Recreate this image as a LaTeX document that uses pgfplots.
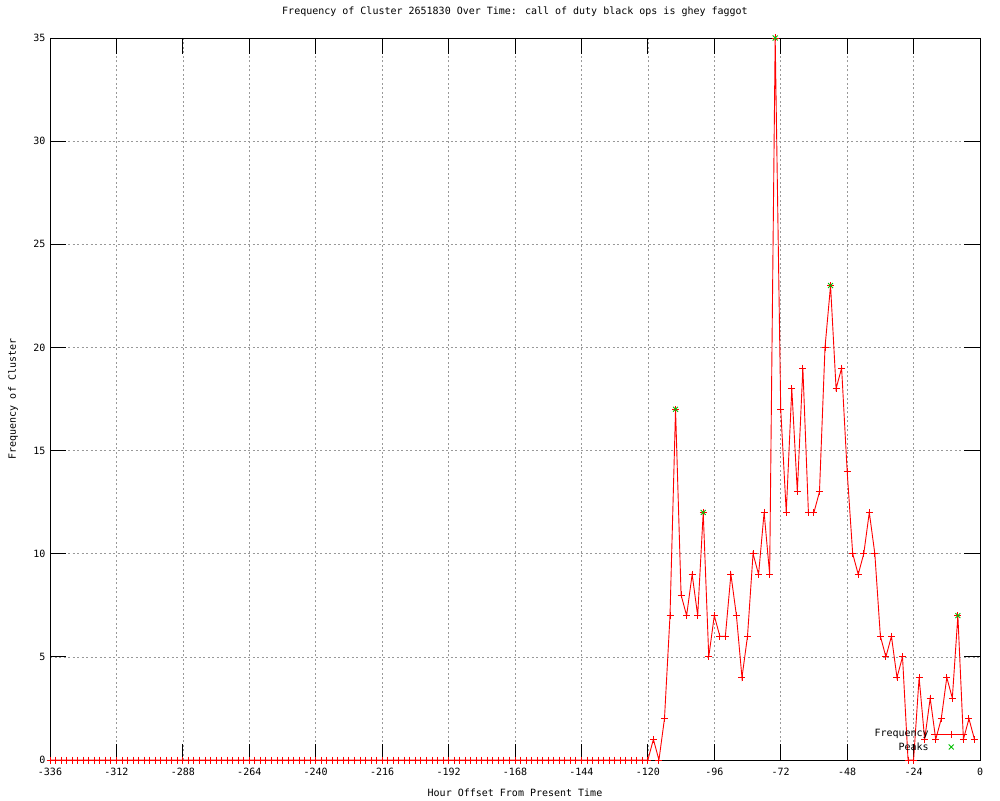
\documentclass[border=0pt]{standalone}
\usepackage{pgfplots}
\pgfplotsset{compat=1.18}
\usepackage{fontspec}
\setmainfont{DejaVu Sans Mono}
\definecolor{gpgreen}{RGB}{0,192,0}
\begin{document}
\fontsize{10pt}{12pt}\selectfont
\begin{tikzpicture}[x=1pt,y=1pt]
\useasboundingbox[fill=white] (0,0) rectangle (1000,800);
\begin{axis}[
  at={(50pt,40pt)}, anchor=south west,
  scale only axis, width=930pt, height=722pt,
  xmin=-336, xmax=0, ymin=0, ymax=35,
  xtick={-336,-312,-288,-264,-240,-216,-192,-168,-144,-120,-96,-72,-48,-24,0},
  xticklabels={-336,-312,-288,-264,-240,-216,-192,-168,-144,-120,-96,-72,-48,-24,0},
  ytick={0,5,10,15,20,25,30,35},
  yticklabels={0,5,10,15,20,25,30,35},
  tick align=inside,
  major tick length=16pt,
  tick style={black, line width=0.8pt},
  axis line style={black, line width=0.8pt},
  grid=major,
  major grid style={gray!80, line width=0.6pt, dash pattern=on 2pt off 2.5pt},
  ticklabel style={font=\fontsize{10pt}{12pt}\selectfont},
  xticklabel style={yshift=-5pt},
  yticklabel style={xshift=-1pt},
  title={Frequency of Cluster 2651830 Over Time: call of duty black ops is ghey faggot},
  title style={at={(axis description cs:0.5,1.0277)}, anchor=center, font=\fontsize{10pt}{12pt}\selectfont},
  xlabel={Hour Offset From Present Time},
  xlabel style={at={(axis description cs:0.5,-0.0457)}, anchor=center, font=\fontsize{10pt}{12pt}\selectfont},
  ylabel={Frequency of Cluster},
  ylabel style={at={(axis description cs:-0.0398,0.5)}, anchor=center, rotate=0, font=\fontsize{10pt}{12pt}\selectfont},
  legend plot pos=right,
  legend cell align=right,
  legend style={draw=none, fill=none, at={(rel axis cs:0.988,0.0465)}, anchor=north east,
    font=\fontsize{10pt}{12pt}\selectfont, row sep=0pt, inner sep=1pt},
  legend image code/.code={\draw[mark repeat=2,mark phase=2,#1] plot coordinates {(0pt,0pt) (20pt,0pt) (36pt,0pt)};},
]
\addplot[red, line width=0.9pt, mark=+, mark size=3.5pt, mark options={line width=0.9pt}] coordinates {
(-336,0) (-334,0) (-332,0) (-330,0) (-328,0) (-326,0) (-324,0) (-322,0) (-320,0) (-318,0)
(-316,0) (-314,0) (-312,0) (-310,0) (-308,0) (-306,0) (-304,0) (-302,0) (-300,0) (-298,0)
(-296,0) (-294,0) (-292,0) (-290,0) (-288,0) (-286,0) (-284,0) (-282,0) (-280,0) (-278,0)
(-276,0) (-274,0) (-272,0) (-270,0) (-268,0) (-266,0) (-264,0) (-262,0) (-260,0) (-258,0)
(-256,0) (-254,0) (-252,0) (-250,0) (-248,0) (-246,0) (-244,0) (-242,0) (-240,0) (-238,0)
(-236,0) (-234,0) (-232,0) (-230,0) (-228,0) (-226,0) (-224,0) (-222,0) (-220,0) (-218,0)
(-216,0) (-214,0) (-212,0) (-210,0) (-208,0) (-206,0) (-204,0) (-202,0) (-200,0) (-198,0)
(-196,0) (-194,0) (-192,0) (-190,0) (-188,0) (-186,0) (-184,0) (-182,0) (-180,0) (-178,0)
(-176,0) (-174,0) (-172,0) (-170,0) (-168,0) (-166,0) (-164,0) (-162,0) (-160,0) (-158,0)
(-156,0) (-154,0) (-152,0) (-150,0) (-148,0) (-146,0) (-144,0) (-142,0) (-140,0) (-138,0)
(-136,0) (-134,0) (-132,0) (-130,0) (-128,0) (-126,0) (-124,0) (-122,0) (-120,0)
(-118,1) (-116,0) (-114,2) (-112,7) (-110,17) (-108,8) (-106,7) (-104,9) (-102,7) (-100,12)
(-98,5) (-96,7) (-94,6) (-92,6) (-90,9) (-88,7) (-86,4) (-84,6) (-82,10) (-80,9)
(-78,12) (-76,9) (-74,35) (-72,17) (-70,12) (-68,18) (-66,13) (-64,19) (-62,12) (-60,12)
(-58,13) (-56,20) (-54,23) (-52,18) (-50,19) (-48,14) (-46,10) (-44,9) (-42,10) (-40,12)
(-38,10) (-36,6) (-34,5) (-32,6) (-30,4) (-28,5) (-26,0) (-24,0) (-22,4) (-20,1)
(-18,3) (-16,1) (-14,2) (-12,4) (-10,3) (-8,7) (-6,1) (-4,2) (-2,1)
};
\addlegendentry{Frequency}
\addplot[gpgreen, only marks, mark=x, mark size=3.5pt, mark options={line width=0.9pt}] coordinates {
(-110,17) (-100,12) (-74,35) (-54,23) (-8,7)
};
\addlegendentry{Peaks}
\end{axis}
\end{tikzpicture}
\end{document}
